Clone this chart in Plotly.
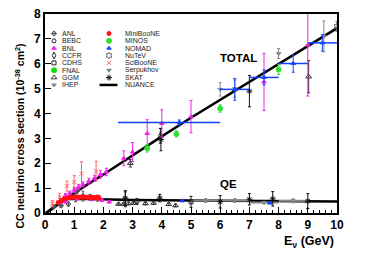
import plotly.graph_objects as go

# ---------------- NUANCE predictions ----------------
nuance_tot_E = [0.03, 0.2, 0.4, 0.6, 0.8, 1.0, 1.5, 2.0, 3.0, 4.0, 5.0, 6.0, 8.0, 10.0]
nuance_tot_xs = [0.0, 0.12, 0.3, 0.5, 0.66, 0.8, 1.18, 1.55, 2.33, 3.08, 3.83, 4.55, 6.0, 7.43]
nuance_qe_E = [0.03, 0.2, 0.4, 0.6, 0.8, 1.0, 1.5, 2.0, 3.0, 5.0, 7.0, 10.0]
nuance_qe_xs = [0.0, 0.14, 0.34, 0.5, 0.56, 0.57, 0.56, 0.54, 0.52, 0.5, 0.48, 0.46]

# ---------------- data ----------------
anl_E = [0.3, 0.55, 0.8, 1.05, 1.3, 1.55, 1.8, 1.1]
anl_xs = [0.25, 0.3, 0.36, 0.6, 0.68, 0.62, 0.6, 0.88]
anl_err = [0.05, 0.06, 0.08, 0.15, 0.2, 0.12, 0.12, 0.08]

bebc_E = [2.75, 3.15]
bebc_xs = [0.55, 0.46]
bebc_err = [0.3, 0.12]

bnl_E = [0.55, 0.7, 0.85, 1.0, 1.15, 1.3, 1.5, 1.7, 1.9, 2.1, 2.7, 3.0, 3.5, 4.0, 5.0, 7.5, 9.0,
         0.7, 1.1, 1.6, 1.95, 2.2]
bnl_xs = [0.45, 0.7, 0.8, 0.92, 1.05, 1.15, 1.28, 1.4, 1.55, 1.65, 2.2, 2.45, 3.2, 3.6, 3.87, 5.27, 6.75,
          0.45, 0.58, 0.55, 0.52, 0.45]
bnl_err = [0.05, 0.08, 0.08, 0.1, 0.1, 0.1, 0.12, 0.12, 0.15, 0.15, 0.3, 0.38, 0.55, 0.55, 0.65, 1.15, 2.05,
           0.05, 0.06, 0.06, 0.06, 0.05]

ccfr_E = [3.95]
ccfr_xs = [3.1]
ccfr_err = [0.3]

cdhs_E = [5.0]
cdhs_xs = [0.45]
cdhs_err = [0.22]

minos_E = [3.5, 4.5, 6.0, 8.0]
minos_xs = [2.6, 3.18, 4.2, 5.77]
minos_err = [0.15, 0.12, 0.15, 0.2]

ggm_E = [2.52, 2.69, 2.86, 3.03, 3.44, 3.72, 4.24, 4.47, 2.92, 9.03]
ggm_xs = [0.36, 0.36, 0.38, 0.4, 0.38, 0.4, 0.35, 0.3, 2.0, 5.48]
ggm_err = [0.04, 0.04, 0.05, 0.05, 0.05, 0.05, 0.05, 0.05, 0.15, 0.65]

ihep_E = [6.0, 6.5, 9.55, 5.5, 6.5, 8.5]
ihep_xs = [4.97, 5.0, 7.1, 0.5, 0.5, 0.49]
ihep_err = [0.27, 0.35, 0.62, 0.08, 0.08, 0.08]
ihep_bin = [0.0, 0.0, 0.0, 0.5, 0.5, 0.5]

mb_E = [0.45, 0.55, 0.65, 0.75, 0.85, 0.95, 1.05, 1.15, 1.25, 1.35, 1.45, 1.55, 1.65, 1.75, 1.85]
mb_xs = [0.42, 0.5, 0.56, 0.6, 0.62, 0.63, 0.64, 0.64, 0.64, 0.64, 0.63, 0.63, 0.62, 0.62, 0.61]
mb_err = [0.06, 0.06, 0.06, 0.06, 0.06, 0.06, 0.06, 0.06, 0.07, 0.07, 0.07, 0.08, 0.08, 0.08, 0.09]
mb_bin = [0.05] * 15

nomad_E = [4.6, 6.5, 7.5, 8.5, 9.5, 4.7, 7.7]
nomad_xs = [3.64, 4.97, 5.45, 6.01, 6.84, 0.49, 0.4]
nomad_err = [0.1, 0.44, 0.3, 0.35, 0.33, 0.03, 0.03]
nomad_bin_lo = [2.1, 0.5, 0.5, 0.5, 0.5, 0.0, 0.0]
nomad_bin_hi = [1.4, 0.5, 0.5, 0.5, 0.5, 0.0, 0.0]

nutev_E = [10.0]
nutev_xs = [7.5]
nutev_err = [0.2]

scib_E = [0.25, 0.5, 0.75, 1.0, 1.25, 1.75]
scib_xs = [0.38, 0.64, 1.08, 1.25, 1.58, 1.68]
scib_err = [0.12, 0.15, 0.2, 0.25, 0.48, 0.4]

serp_E = [8.0, 7.5]
serp_xs = [6.41, 0.42]
serp_err = [0.2, 0.05]
serp_bin = [0.0, 0.5]

skat_E = [3.97, 7.0, 2.75, 3.93, 6.0, 7.0, 7.8, 9.0]
skat_xs = [2.95, 4.9, 0.6, 0.6, 0.45, 0.55, 0.57, 0.48]
skat_err = [0.45, 0.63, 0.3, 0.15, 0.25, 0.23, 0.29, 0.3]

legend_col1 = ["ANL", "BEBC", "BNL", "CCFR", "CDHS", "FNAL", "GGM", "IHEP"]
legend_col2 = ["MiniBooNE", "MINOS", "NOMAD", "NuTeV", "SciBooNE", "Serpukhov", "SKAT", "NUANCE"]

FONT = "Liberation Sans, Arial, Helvetica, sans-serif"

style = {
    "ANL": ("diamond-cross-open", "#555555", 4),
    "BEBC": ("circle-open", "#222222", 4),
    "BNL": ("triangle-up", "#ee22ee", 4),
    "CCFR": ("diamond-tall-open", "#222222", 5),
    "CDHS": ("square-open", "#222222", 4),
    "FNAL": ("circle", "#11dd11", 5),
    "GGM": ("triangle-up-open", "#333333", 5),
    "IHEP": ("triangle-down", "#888888", 4),
    "MiniBooNE": ("circle", "#ff1111", 4),
    "MINOS": ("circle", "#33dd33", 5),
    "NOMAD": ("triangle-up", "#1144ff", 4),
    "NuTeV": ("hexagram-open", "#666666", 5),
    "SciBooNE": ("x-thin-open", "#ff6666", 4),
    "Serpukhov": ("triangle-down", "#888888", 4),
    "SKAT": ("asterisk-open", "#111111", 5),
}

fig = go.Figure()

# NUANCE lines
fig.add_trace(go.Scatter(x=nuance_tot_E, y=nuance_tot_xs, mode="lines",
                         line=dict(color="black", width=2.5), showlegend=False))
fig.add_trace(go.Scatter(x=nuance_qe_E, y=nuance_qe_xs, mode="lines",
                         line=dict(color="black", width=2.5), showlegend=False))


def add_data(name, E, xs, err, xlo=None, xhi=None, xthick=1):
    sym, col, size = style[name]
    ex = None
    if xlo is not None:
        ex = dict(type="data", symmetric=False, array=xhi, arrayminus=xlo,
                  color=col, thickness=xthick, width=0)
    fig.add_trace(go.Scatter(
        x=E, y=xs, mode="markers", name=name, showlegend=False,
        marker=dict(symbol=sym, size=size, color=col, line=dict(color=col, width=1)),
        error_y=dict(type="data", array=err, color=col, thickness=1, width=1.5),
        error_x=ex))


add_data("IHEP", ihep_E, ihep_xs, ihep_err, ihep_bin, ihep_bin, 2)
add_data("Serpukhov", serp_E, serp_xs, serp_err, serp_bin, serp_bin, 2)
add_data("ANL", anl_E, anl_xs, anl_err)
add_data("BEBC", bebc_E, bebc_xs, bebc_err)
add_data("CCFR", ccfr_E, ccfr_xs, ccfr_err)
add_data("CDHS", cdhs_E, cdhs_xs, cdhs_err)
add_data("GGM", ggm_E, ggm_xs, ggm_err)
add_data("SKAT", skat_E, skat_xs, skat_err)
add_data("NuTeV", nutev_E, nutev_xs, nutev_err)
add_data("SciBooNE", scib_E, scib_xs, scib_err)
add_data("BNL", bnl_E, bnl_xs, bnl_err)
add_data("MINOS", minos_E, minos_xs, minos_err)
add_data("NOMAD", nomad_E, nomad_xs, nomad_err, nomad_bin_lo, nomad_bin_hi, 1.5)
add_data("MiniBooNE", mb_E, mb_xs, mb_err, mb_bin, mb_bin, 2)

# ---------------- manual two-column legend (paper units on overlay axes) ----------------
X0, X1, Y0, Y1 = 45.0, 337.0, 213.0, 14.0


def px(xp):
    return (xp - X0) / (X1 - X0)


def py(yp):
    return (Y0 - yp) / (Y0 - Y1)


row_y = [33.5 + 7.35 * i for i in range(8)]
cols = [(legend_col1, 54.0, 59.5), (legend_col2, 109.0, 123.0)]
for names, mx, tx in cols:
    for i, nm in enumerate(names):
        if nm in style:
            sym, col, size = style[nm]
            fig.add_trace(go.Scatter(
                x=[px(mx)], y=[py(row_y[i])], xaxis="x2", yaxis="y2", mode="markers",
                marker=dict(symbol=sym, size=size, color=col, line=dict(color=col, width=1)),
                showlegend=False, hoverinfo="skip"))
        else:
            fig.add_trace(go.Scatter(
                x=[px(99.5), px(117.5)], y=[py(row_y[i]), py(row_y[i])], xaxis="x2", yaxis="y2",
                mode="lines", line=dict(color="black", width=2.5),
                showlegend=False, hoverinfo="skip"))
        fig.add_annotation(x=px(tx), y=py(row_y[i]), xref="paper", yref="paper",
                           text=nm, showarrow=False, xanchor="left", yanchor="middle",
                           font=dict(family=FONT, size=7, color="#222222"))

# labels
fig.add_annotation(x=6.63, y=6.22, xref="x", yref="y", text="TOTAL", showarrow=False,
                   xanchor="center", yanchor="middle",
                   font=dict(family=FONT, size=11.5, color="black", weight="bold"))
fig.add_annotation(x=6.29, y=1.18, xref="x", yref="y", text="QE", showarrow=False,
                   xanchor="center", yanchor="middle",
                   font=dict(family=FONT, size=11.5, color="black", weight="bold"))

# axis titles
fig.add_annotation(x=px(309), y=py(242), xref="paper", yref="paper",
                   text="E<sub>ν</sub> (GeV)", showarrow=False,
                   xanchor="center", yanchor="middle",
                   font=dict(family=FONT, size=12.5, color="black", weight="bold"))
fig.add_annotation(x=px(19), y=py(136.5), xref="paper", yref="paper", textangle=-90,
                   text="CC neutrino cross section (10<sup>-38</sup> cm<sup>2</sup>)",
                   showarrow=False, xanchor="center", yanchor="middle",
                   font=dict(family=FONT, size=10.5, color="black", weight="bold"))

axis_common = dict(showgrid=False, zeroline=False, showline=True, mirror=True,
                   linecolor="black", linewidth=2, ticks="inside", tickcolor="black",
                   tickwidth=1, tickfont=dict(family=FONT, size=12, color="black", weight="bold"))

fig.update_layout(
    width=374, height=254,
    margin=dict(l=45, r=37, t=14, b=41, autoexpand=False),
    paper_bgcolor="white", plot_bgcolor="white",
    showlegend=False,
    xaxis=dict(range=[0, 10], dtick=1, tick0=0, ticklen=6,
               minor=dict(ticks="inside", dtick=0.2, ticklen=3, tickcolor="black", tickwidth=1),
               **axis_common),
    yaxis=dict(range=[0, 8], dtick=1, tick0=0, ticklen=6, **axis_common),
    xaxis2=dict(range=[0, 1], overlaying="x", visible=False, fixedrange=True),
    yaxis2=dict(range=[0, 1], overlaying="y", visible=False, fixedrange=True),
)

fig.write_html("out.html", post_script="document.body.style.margin='0';",
               config={"displayModeBar": False})
